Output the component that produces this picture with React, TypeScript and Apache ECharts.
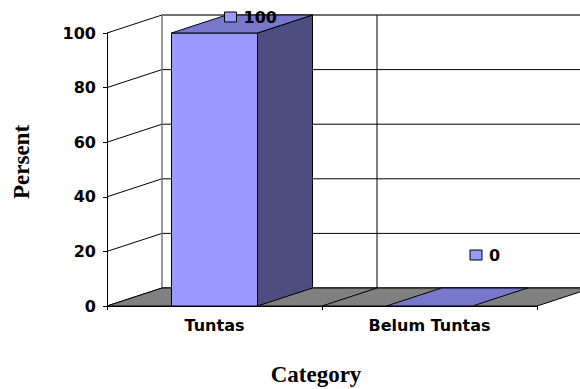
import React, { useEffect, useRef } from "react";
import * as echarts from "echarts";

// ---- data ----
const categories: string[] = ["Tuntas", "Belum Tuntas"];
const values: number[] = [100, 0];
const yTicks: number[] = [0, 20, 40, 60, 80, 100];
const yAxisTitle = "Persent";
const xAxisTitle = "Category";

// ---- style / layout constants ----
const DEPTH_X = 55;
const DEPTH_Y = -18;
const BAR_RATIO = 0.4;
const FRONT = "#9999FF";
const TOP = "#7777CC";
const SIDE = "#4D4D80";
const FLOOR = "#808080";
const LABEL_SHIFT: number[][] = [
  [-11.5, -7],
  [19, -42],
];

const tickFont = {
  fontFamily: "DejaVu Sans",
  fontWeight: "bold" as const,
  fontSize: 16,
  color: "#000",
};
const titleFont = {
  fontFamily: "Liberation Serif",
  fontWeight: "bold" as const,
  fontSize: 23,
  color: "#000",
};

function renderWalls(params: any, api: any) {
  const cs = params.coordSys;
  const x0 = cs.x;
  const x1 = cs.x + cs.width;
  const yTop = cs.y;
  const yBot = cs.y + cs.height;
  const band = api.size([1, 0])[0];
  const dx = DEPTH_X;
  const dy = DEPTH_Y;
  const children: any[] = [];
  // back wall
  children.push({
    type: "polygon",
    shape: {
      points: [
        [x0 + dx, yTop + dy],
        [x1 + dx, yTop + dy],
        [x1 + dx, yBot + dy],
        [x0 + dx, yBot + dy],
      ],
    },
    style: { fill: "#fff", stroke: "#808080", lineWidth: 1 },
  });
  // gridlines on side and back wall
  yTicks.forEach((t) => {
    const y = api.coord([0, t])[1];
    children.push({
      type: "polyline",
      shape: {
        points: [
          [x0, y],
          [x0 + dx, y + dy],
          [x1 + dx, y + dy],
        ],
      },
      style: { fill: "none", stroke: "#000", lineWidth: 1 },
    });
  });
  // top edge of back wall in grey
  children.push({
    type: "line",
    shape: { x1: x0 + dx, y1: yTop + dy, x2: x1 + dx, y2: yTop + dy },
    style: { stroke: "#808080", lineWidth: 1.2 },
  });
  // back-left vertical edge
  children.push({
    type: "line",
    shape: { x1: x0 + dx, y1: yTop + dy, x2: x0 + dx, y2: yBot + dy },
    style: { stroke: "#808080", lineWidth: 1.2 },
  });
  // back wall category dividers
  for (let i = 1; i < categories.length; i++) {
    const bx = x0 + i * band;
    children.push({
      type: "line",
      shape: { x1: bx + dx, y1: yTop + dy, x2: bx + dx, y2: yBot + dy },
      style: { stroke: "#000", lineWidth: 1 },
    });
  }
  // floor
  children.push({
    type: "polygon",
    shape: {
      points: [
        [x0, yBot],
        [x1, yBot],
        [x1 + dx, yBot + dy],
        [x0 + dx, yBot + dy],
      ],
    },
    style: { fill: FLOOR, stroke: "#000", lineWidth: 1 },
  });
  for (let i = 1; i < categories.length; i++) {
    const bx = x0 + i * band;
    children.push({
      type: "line",
      shape: { x1: bx, y1: yBot, x2: bx + dx, y2: yBot + dy },
      style: { stroke: "#000", lineWidth: 1 },
    });
  }
  return { type: "group", children };
}

function renderBars(params: any, api: any) {
  const idx = api.value(0);
  const v = api.value(1);
  const top = api.coord([idx, v]);
  const base = api.coord([idx, 0]);
  const band = api.size([1, 0])[0];
  const w = band * BAR_RATIO;
  const xl = top[0] - w / 2;
  const xr = top[0] + w / 2;
  const ty = top[1];
  const by = base[1];
  const dx = DEPTH_X;
  const dy = DEPTH_Y;
  const children: any[] = [];
  if (by - ty > 0.5) {
    children.push({
      type: "polygon",
      shape: { points: [[xl, ty], [xr, ty], [xr, by], [xl, by]] },
      style: { fill: FRONT, stroke: "#000", lineWidth: 1 },
    });
    children.push({
      type: "polygon",
      shape: { points: [[xr, ty], [xr + dx, ty + dy], [xr + dx, by + dy], [xr, by]] },
      style: { fill: SIDE, stroke: "#000", lineWidth: 1 },
    });
  }
  children.push({
    type: "polygon",
    shape: { points: [[xl, ty], [xr, ty], [xr + dx, ty + dy], [xl + dx, ty + dy]] },
    style: { fill: TOP, stroke: "#000", lineWidth: 1 },
  });
  // data label with legend key
  const s = LABEL_SHIFT[idx] || [0, -10];
  const cx = top[0] + dx / 2 + s[0];
  const cy = ty + dy / 2 + s[1];
  children.push({
    type: "rect",
    shape: { x: cx - 6, y: cy - 5, width: 12, height: 10 },
    style: { fill: FRONT, stroke: "#000", lineWidth: 1 },
  });
  children.push({
    type: "text",
    style: {
      text: String(v),
      x: cx + 13,
      y: cy,
      fill: "#000",
      font: "bold 16px 'DejaVu Sans'",
      textAlign: "left",
      textVerticalAlign: "middle",
      align: "left",
      verticalAlign: "middle",
    },
  });
  return { type: "group", children };
}

export default function App() {
  const ref = useRef<HTMLDivElement>(null);
  useEffect(() => {
    if (!ref.current) return;
    const chart = echarts.init(ref.current, null, { renderer: "svg" });
    chart.setOption({
      animation: false,
      backgroundColor: "#fff",
      grid: {
        left: 107,
        right: 43,
        top: 33,
        bottom: 83,
        containLabel: false,
        outerBoundsMode: "none",
      },
      xAxis: {
        type: "category",
        data: categories,
        boundaryGap: true,
        axisLine: { show: true, lineStyle: { color: "#000", width: 1 } },
        axisTick: { show: true, length: 4, lineStyle: { color: "#000" } },
        axisLabel: { ...tickFont, margin: 11 },
        splitLine: { show: false },
        name: xAxisTitle,
        nameLocation: "middle",
        nameGap: 57,
        nameTextStyle: { ...titleFont, padding: [0, 12, 0, 0] },
      },
      yAxis: {
        type: "value",
        min: 0,
        max: 100,
        interval: 20,
        axisLine: { show: true, lineStyle: { color: "#000", width: 1 } },
        axisTick: { show: true, length: 4, lineStyle: { color: "#000" } },
        axisLabel: { ...tickFont, margin: 11 },
        splitLine: { show: false },
        name: yAxisTitle,
        nameLocation: "middle",
        nameRotate: 90,
        nameGap: 74,
        nameTextStyle: { ...titleFont, padding: [0, 0, 0, 15] },
      },
      series: [
        {
          type: "custom",
          renderItem: renderWalls,
          data: [[0, 0]],
          z: 1,
          silent: true,
        },
        {
          type: "custom",
          renderItem: renderBars,
          data: values.map((v, i) => [i, v]),
          z: 3,
          silent: true,
        },
      ],
    });
    return () => chart.dispose();
  }, []);
  return <div ref={ref} style={{ width: 580, height: 389, position: "absolute", left: 0, top: 0 }} />;
}
